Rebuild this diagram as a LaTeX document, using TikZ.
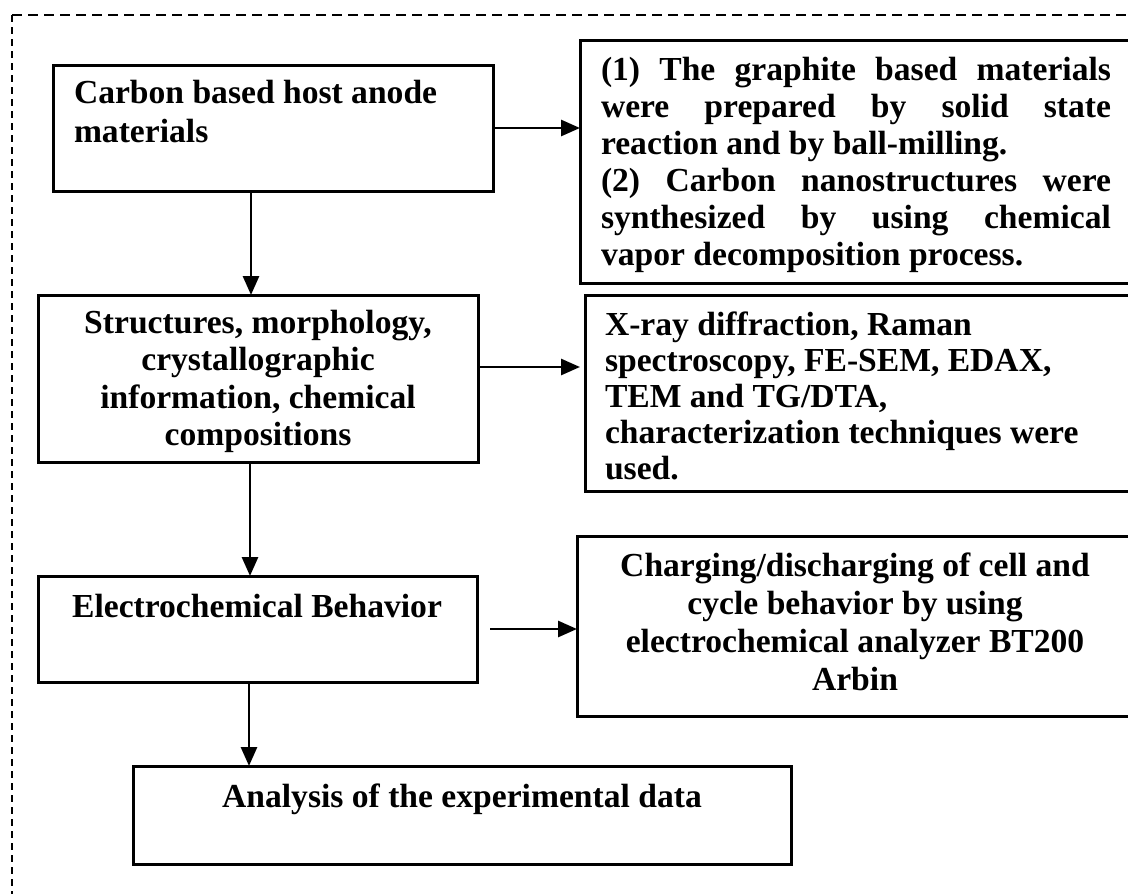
\documentclass[tikz,border=0pt]{standalone}
\usepackage{fontspec}
\setmainfont{Liberation Serif}
\usetikzlibrary{arrows.meta,calc}
\tikzset{
  box/.style={draw, line width=3pt, inner sep=0pt, outer sep=0pt, anchor=north west},
  txt/.style={inner sep=0pt, outer sep=0pt, font=\bfseries\fontsize{33.6}{37}\selectfont},
  arr/.style={draw, line width=2.8pt, -{Triangle[length=19pt,width=16pt]}},
  frame/.style={draw, line width=1.8pt, dash pattern=on 10pt off 6pt},
  frameleft/.style={draw, line width=2.8pt, dash pattern=on 7pt off 5pt}
}
\begin{document}
\begin{tikzpicture}[x=1pt,y=-1pt]
\useasboundingbox (0,0) rectangle (1128,894);
\clip (0,0) rectangle (1128,894);
% outer dashed frame
\draw[frame] (12,15) -- (1128,15);
\draw[frameleft] (12,15) -- (12,894);

% boxes
\node[box, minimum width=440pt, minimum height=126pt] (b1) at (53,65) {};
\node[box, minimum width=553pt, minimum height=243pt] (r1) at (580,40) {};
\node[box, minimum width=440pt, minimum height=167pt] (b2) at (38,295) {};
\node[box, minimum width=548pt, minimum height=196pt] (r2) at (585,295) {};
\node[box, minimum width=439pt, minimum height=106pt] (b3) at (38,576) {};
\node[box, minimum width=556pt, minimum height=180pt] (r3) at (577,536) {};
\node[box, minimum width=658pt, minimum height=98pt] (b4) at (133,766) {};

% texts
\node[txt, anchor=north west, align=left, font=\bfseries\fontsize{33.6}{39}\selectfont] (t1) at (74,{103-27.3})
  {\strut Carbon based host anode\\materials};
\node[txt, anchor=north west, align=left] (tr1) at (601,{80-25.9})
  {\makebox[510pt][s]{\strut(1) The graphite based materials}\\
   \makebox[510pt][s]{were prepared by solid state}\\
   reaction and by ball-milling.\\
   \makebox[510pt][s]{(2) Carbon nanostructures were}\\
   \makebox[510pt][s]{synthesized by using chemical}\\
   vapor decomposition process.};
\node[txt, anchor=north, align=center, font=\bfseries\fontsize{33.6}{37.5}\selectfont] (t2) at (258,{333-26.25})
  {\strut Structures, morphology,\\crystallographic\\information, chemical\\compositions};
\node[txt, anchor=north west, align=left, font=\bfseries\fontsize{33.6}{36}\selectfont] (tr2) at (605,{335-25.2})
  {\strut X-ray diffraction, Raman\\spectroscopy, FE-SEM, EDAX,\\TEM and TG/DTA,\\characterization techniques were\\used.};
\node[txt, anchor=north, align=center] (t3) at (257,{617-25.9})
  {\strut Electrochemical Behavior};
\node[txt, anchor=north, align=center, font=\bfseries\fontsize{33.6}{38}\selectfont] (tr3) at (855,{576-26.6})
  {\strut Charging/discharging of cell and\\cycle behavior by using\\electrochemical analyzer BT200\\Arbin};
\node[txt, anchor=north, align=center] (t4) at (462,{807-25.9})
  {\strut Analysis of the experimental data};

% connector helpers
\coordinate (v1) at (251,0);
\coordinate (v2) at (250,0);
\coordinate (v3) at (249,0);
\coordinate (h2) at (0,367);

% connectors
\draw[arr] (b1.east) -- (b1.east -| r1.west);
\draw[arr, shorten >=5pt] (b2.east |- h2) -- (r2.west |- h2);
\draw[arr, shorten <=13pt] (b3.east) -- (b3.east -| r3.west);
\draw[arr] (b1.south -| v1) -- (b2.north -| v1);
\draw[arr] (b2.south -| v2) -- (b3.north -| v2);
\draw[arr] (b3.south -| v3) -- (b4.north -| v3);
\end{tikzpicture}
\end{document}
